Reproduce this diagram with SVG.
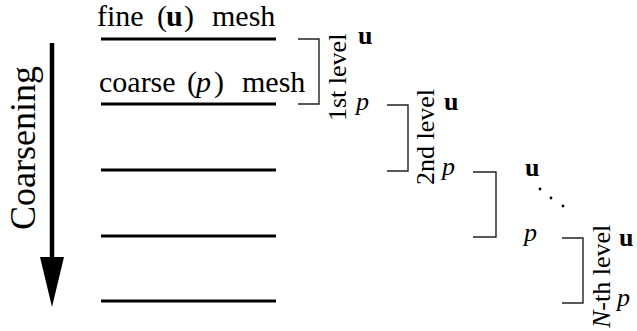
<svg xmlns="http://www.w3.org/2000/svg" width="637" height="331" viewBox="0 0 637 331">
<style>
.mesh { stroke: #000; stroke-width: 3; }
.br { fill: none; stroke: #222; stroke-width: 1.4; }
</style>
<defs>
  <polygon id="arrowhead" points="-12,0 12,0 0,50" fill="#000"/>
</defs>
<g id="meshes">
  <line class="mesh" x1="101" y1="39" x2="276" y2="39"/>
  <line class="mesh" x1="101" y1="104" x2="276" y2="104"/>
  <line class="mesh" x1="101" y1="170" x2="276" y2="170"/>
  <line class="mesh" x1="101" y1="236" x2="276" y2="236"/>
  <line class="mesh" x1="101" y1="301" x2="276" y2="301"/>
</g>
<g id="mesh-labels">
  <text style="font-family:'Liberation Serif',serif;font-size:30px" x="97" y="26">fine</text>
  <text style="font-family:'Liberation Serif',serif;font-size:30px" x="157" y="26">(</text>
  <text style="font-family:'Liberation Serif',serif;font-size:30px;font-weight:bold" x="166" y="26">u</text>
  <text style="font-family:'Liberation Serif',serif;font-size:30px" x="184" y="26">)</text>
  <text style="font-family:'Liberation Serif',serif;font-size:30px" x="212" y="26">mesh</text>
  <text style="font-family:'Liberation Serif',serif;font-size:30px" x="99" y="92">coarse</text>
  <text style="font-family:'Liberation Serif',serif;font-size:30px" x="187" y="92">(</text>
  <text style="font-family:'Liberation Serif',serif;font-size:30px;font-style:italic" x="196" y="92">p</text>
  <text style="font-family:'Liberation Serif',serif;font-size:30px" x="214" y="92">)</text>
  <text style="font-family:'Liberation Serif',serif;font-size:30px" x="242" y="92">mesh</text>
</g>
<g id="coarsening">
  <line x1="52" y1="43" x2="52" y2="262" stroke="#000" stroke-width="4.5"/>
  <use href="#arrowhead" x="52" y="257"/>
  <text style="font-family:'Liberation Serif',serif;font-size:36px" transform="translate(35,230) rotate(-90)">Coarsening</text>
</g>
<g id="connectors">
  <polyline class="br" points="298,39 319,39 319,104 298,104"/>
  <polyline class="br" points="387,105 408,105 408,171 387,171"/>
  <polyline class="br" points="473,172 496,172 496,237 473,237"/>
  <polyline class="br" points="562,238 583,238 583,303 562,303"/>
</g>
<g id="level1">
  <text style="font-family:'Liberation Serif',serif;font-size:26px" transform="translate(346,121) rotate(-90)">1st level</text>
  <text style="font-family:'Liberation Serif',serif;font-size:26px;font-weight:bold" x="358" y="44">u</text>
  <text style="font-family:'Liberation Serif',serif;font-size:26px;font-style:italic" x="356" y="110">p</text>
</g>
<g id="level2">
  <text style="font-family:'Liberation Serif',serif;font-size:26px" transform="translate(434,185) rotate(-90)">2nd level</text>
  <text style="font-family:'Liberation Serif',serif;font-size:26px;font-weight:bold" x="444" y="110">u</text>
  <text style="font-family:'Liberation Serif',serif;font-size:26px;font-style:italic" x="442" y="175">p</text>
</g>
<g id="level3">
  <text style="font-family:'Liberation Serif',serif;font-size:26px;font-weight:bold" x="525" y="176">u</text>
  <circle cx="540" cy="189" r="1.4"/>
  <circle cx="551" cy="198" r="1.4"/>
  <circle cx="563" cy="206" r="1.4"/>
  <text style="font-family:'Liberation Serif',serif;font-size:26px;font-style:italic" x="524" y="241">p</text>
</g>
<g id="levelN">
  <text style="font-family:'Liberation Serif',serif;font-size:26px" transform="translate(610,328) rotate(-90)"><tspan style="font-style:italic">N</tspan>-th level</text>
  <text style="font-family:'Liberation Serif',serif;font-size:26px;font-weight:bold" x="619" y="246">u</text>
  <text style="font-family:'Liberation Serif',serif;font-size:26px;font-style:italic" x="617" y="306">p</text>
</g>
</svg>
